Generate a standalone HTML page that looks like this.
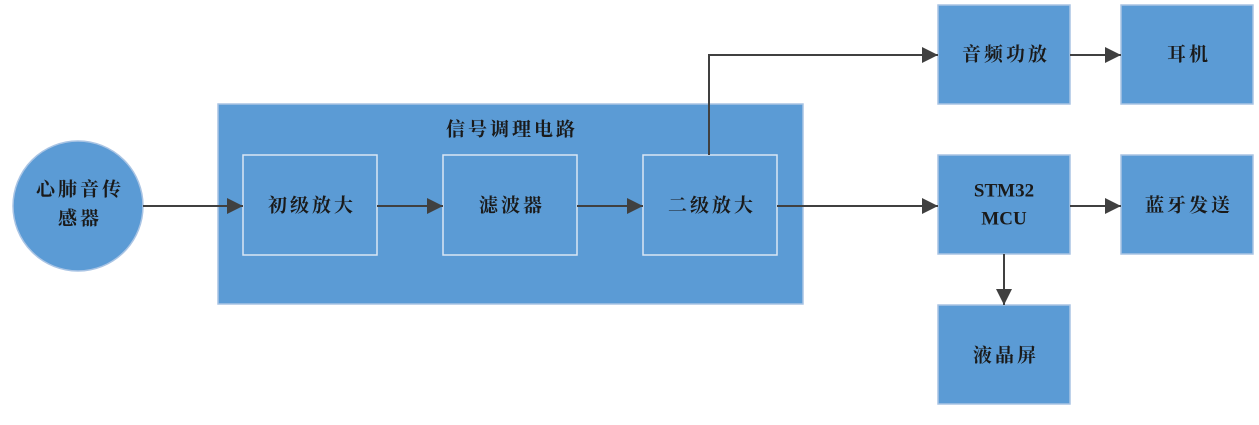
<!DOCTYPE html>
<html><head><meta charset="utf-8"><style>
body{margin:0;width:1259px;height:420px;background:#fff;overflow:hidden}
svg text{font-family:"Liberation Serif","Noto Serif CJK SC",serif;font-weight:bold;fill:#1a1a1a;font-size:19px;text-anchor:middle;dominant-baseline:central;letter-spacing:3px}
svg text.e{letter-spacing:0}
</style></head><body>
<svg width="1259" height="420" xmlns="http://www.w3.org/2000/svg">
<defs><marker id="b" viewBox="0 0 10 10" markerWidth="16" markerHeight="16" refX="10" refY="5" orient="auto" markerUnits="userSpaceOnUse"><path d="M0,0 L10,5 L0,10 z" fill="#404040"/></marker></defs>
<g fill="#5b9bd5" stroke="#a9c4e4" stroke-width="1.5">
<circle cx="78" cy="206" r="65"/>
<rect x="218" y="104" width="585" height="200"/>
<rect x="938" y="5" width="132" height="99"/>
<rect x="1121" y="5" width="132" height="99"/>
<rect x="938" y="155" width="132" height="99"/>
<rect x="1121" y="155" width="132" height="99"/>
<rect x="938" y="305" width="132" height="99"/>
</g>
<g fill="none" stroke="#d9e6f3" stroke-width="1.5">
<rect x="243" y="155" width="134" height="100"/>
<rect x="443" y="155" width="134" height="100"/>
<rect x="643" y="155" width="134" height="100"/>
</g>
<g stroke="#404040" stroke-width="2" fill="none" marker-end="url(#b)">
<path d="M143 206 H243"/>
<path d="M377 206 H443"/>
<path d="M577 206 H643"/>
<path d="M777 206 H938"/>
<path d="M709 155 V55 H938"/>
<path d="M1070 55 H1121"/>
<path d="M1070 206 H1121"/>
<path d="M1004 254 V305"/>
</g>
<text x="80" y="190">心肺音传</text>
<text x="80" y="219">感器</text>
<text x="512" y="130">信号调理电路</text>
<text x="312" y="206">初级放大</text>
<text x="512" y="206">滤波器</text>
<text x="712" y="206">二级放大</text>
<text x="1006" y="55">音频功放</text>
<text x="1189" y="55">耳机</text>
<text class="e" x="1004" y="191">STM32</text>
<text class="e" x="1004" y="219">MCU</text>
<text x="1189" y="206">蓝牙发送</text>
<text x="1006" y="356">液晶屏</text>
</svg>
</body></html>
